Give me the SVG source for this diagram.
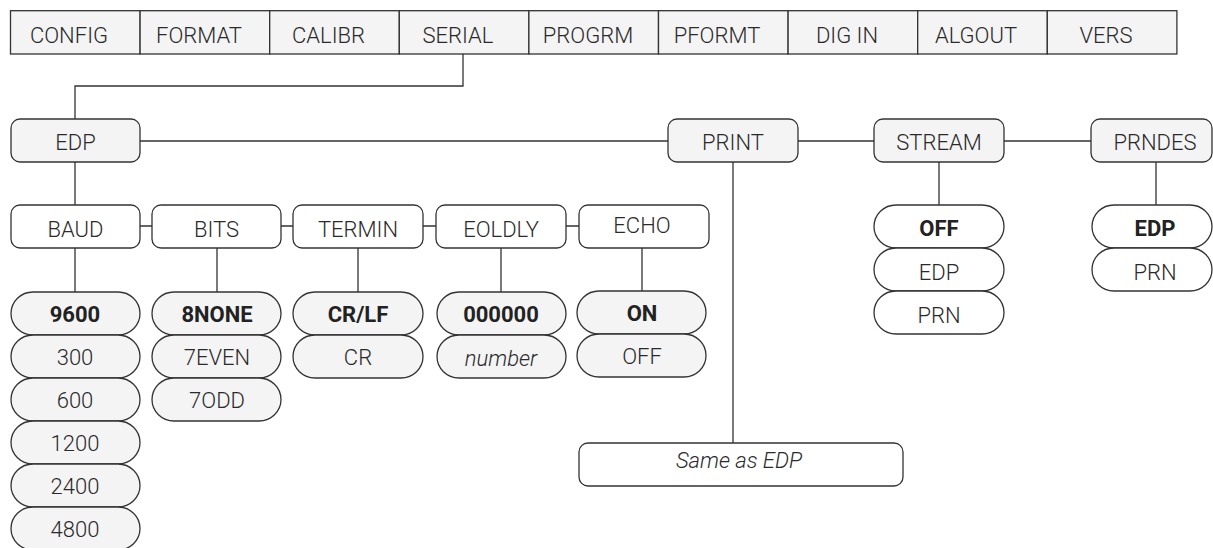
<svg xmlns="http://www.w3.org/2000/svg" width="1213" height="548" viewBox="0 0 1213 548">
<style>
text{font-family:Roboto,"Liberation Sans",sans-serif;font-size:22px;font-weight:300;fill:#2a2a2a;text-anchor:middle}
.b{font-weight:bold;fill:#222}
.i{font-style:italic}
.menu rect{fill:#f4f4f4;stroke:#333;stroke-width:1.3}
.box{fill:#f4f4f4;stroke:#333;stroke-width:1.3}
.wbox{fill:#fff;stroke:#333;stroke-width:1.3}
.pill{fill:#f4f4f4;stroke:#333;stroke-width:1.3}
.wpill{fill:#fff;stroke:#333;stroke-width:1.3}
#connectors path{fill:none;stroke:#333;stroke-width:1.3}
</style>
<rect width="1213" height="548" fill="#fff"/>
<g id="connectors">
<path d="M463 54V86H75V119"/>
<path d="M140 141H668M798 141H874M1004 141H1091"/>
<path d="M75 162V205M733 162V443M939 162V205M1156 162V205"/>
<path d="M140 226H152M281 226H293M423 226H436M566 226H579"/>
<path d="M75 248V292M217 248V292M358 248V292M501 248V292M642 248V291"/>
</g>
<g id="menu" class="menu">
<g id="m-config"><rect x="10.5" y="10.7" width="129.6" height="43.3"/><text x="69" y="43">CONFIG</text></g>
<g id="m-format"><rect x="140.1" y="10.7" width="129.6" height="43.3"/><text x="199" y="43">FORMAT</text></g>
<g id="m-calibr"><rect x="269.7" y="10.7" width="129.6" height="43.3"/><text x="328.5" y="43">CALIBR</text></g>
<g id="m-serial"><rect x="399.3" y="10.7" width="129.6" height="43.3"/><text x="458" y="43">SERIAL</text></g>
<g id="m-progrm"><rect x="528.9" y="10.7" width="129.6" height="43.3"/><text x="588" y="43">PROGRM</text></g>
<g id="m-pformt"><rect x="658.5" y="10.7" width="129.6" height="43.3"/><text x="717" y="43">PFORMT</text></g>
<g id="m-digin"><rect x="788.1" y="10.7" width="129.6" height="43.3"/><text x="847" y="43">DIG IN</text></g>
<g id="m-algout"><rect x="917.7" y="10.7" width="129.6" height="43.3"/><text x="976" y="43">ALGOUT</text></g>
<g id="m-vers"><rect x="1047.3" y="10.7" width="129.6" height="43.3"/><text x="1106" y="43">VERS</text></g>
</g>
<g id="edp"><rect class="box" x="11" y="119" width="129" height="43" rx="9"/><text x="75.5" y="150">EDP</text></g>
<g id="print"><rect class="box" x="668" y="119" width="130" height="43" rx="9"/><text x="733" y="150">PRINT</text></g>
<g id="stream"><rect class="box" x="874" y="119" width="130" height="43" rx="9"/><text x="939" y="150">STREAM</text></g>
<g id="prndes"><rect class="box" x="1091" y="119" width="121" height="43" rx="9"/><text x="1155" y="150">PRNDES</text></g>
<g id="baud"><rect class="wbox" x="11" y="205" width="129" height="43" rx="9"/><text x="75.5" y="237">BAUD</text></g>
<g id="bits"><rect class="wbox" x="152" y="205" width="129" height="43" rx="9"/><text x="216.5" y="237">BITS</text></g>
<g id="termin"><rect class="wbox" x="293" y="205" width="130" height="43" rx="9"/><text x="358" y="237">TERMIN</text></g>
<g id="eoldly"><rect class="wbox" x="436" y="205" width="130" height="43" rx="9"/><text x="501" y="237">EOLDLY</text></g>
<g id="echo"><rect class="wbox" x="579" y="205" width="130" height="43" rx="9"/><text x="642" y="233">ECHO</text></g>
<g id="baud-values">
<rect class="pill" x="11" y="292" width="129" height="43" rx="22" ry="21.5"/><text class="b" x="75" y="322">9600</text>
<rect class="pill" x="11" y="335" width="129" height="43" rx="22" ry="21.5"/><text x="75" y="365">300</text>
<rect class="pill" x="11" y="378" width="129" height="43" rx="22" ry="21.5"/><text x="75" y="408">600</text>
<rect class="pill" x="11" y="421" width="129" height="43" rx="22" ry="21.5"/><text x="75" y="451">1200</text>
<rect class="pill" x="11" y="464" width="129" height="43" rx="22" ry="21.5"/><text x="75" y="494">2400</text>
<rect class="pill" x="11" y="507" width="129" height="43" rx="22" ry="21.5"/><text x="75" y="537">4800</text>
</g>
<g id="bits-values">
<rect class="pill" x="152" y="292" width="129" height="43" rx="22" ry="21.5"/><text class="b" x="217" y="322">8NONE</text>
<rect class="pill" x="152" y="335" width="129" height="43" rx="22" ry="21.5"/><text x="217" y="365">7EVEN</text>
<rect class="pill" x="152" y="378" width="129" height="43" rx="22" ry="21.5"/><text x="217" y="408">7ODD</text>
</g>
<g id="termin-values">
<rect class="pill" x="293" y="292" width="130" height="43" rx="22" ry="21.5"/><text class="b" x="358" y="322">CR/LF</text>
<rect class="pill" x="293" y="335" width="130" height="43" rx="22" ry="21.5"/><text x="358" y="365">CR</text>
</g>
<g id="eoldly-values">
<rect class="pill" x="437" y="292" width="129" height="43" rx="22" ry="21.5"/><text class="b" x="501" y="322">000000</text>
<rect class="pill" x="437" y="335" width="129" height="43" rx="22" ry="21.5"/><text class="i" x="501" y="366">number</text>
</g>
<g id="echo-values">
<rect class="pill" x="577" y="291" width="129" height="43" rx="22" ry="21.5"/><text class="b" x="642" y="321">ON</text>
<rect class="pill" x="577" y="334" width="129" height="43" rx="22" ry="21.5"/><text x="642" y="364">OFF</text>
</g>
<g id="stream-values">
<rect class="wpill" x="874" y="205" width="130" height="43" rx="22" ry="21.5"/><text class="b" x="939" y="236">OFF</text>
<rect class="wpill" x="874" y="248" width="130" height="43" rx="22" ry="21.5"/><text x="939" y="280">EDP</text>
<rect class="wpill" x="874" y="291" width="130" height="43" rx="22" ry="21.5"/><text x="939" y="323">PRN</text>
</g>
<g id="prndes-values">
<rect class="wpill" x="1092" y="205" width="120" height="43" rx="22" ry="21.5"/><text class="b" x="1155" y="236">EDP</text>
<rect class="wpill" x="1092" y="248" width="120" height="43" rx="22" ry="21.5"/><text x="1155" y="280">PRN</text>
</g>
<g id="same-as-edp"><rect class="wbox" x="579" y="443" width="324" height="43" rx="9"/><text class="i" x="739" y="468">Same as EDP</text></g>
</svg>
